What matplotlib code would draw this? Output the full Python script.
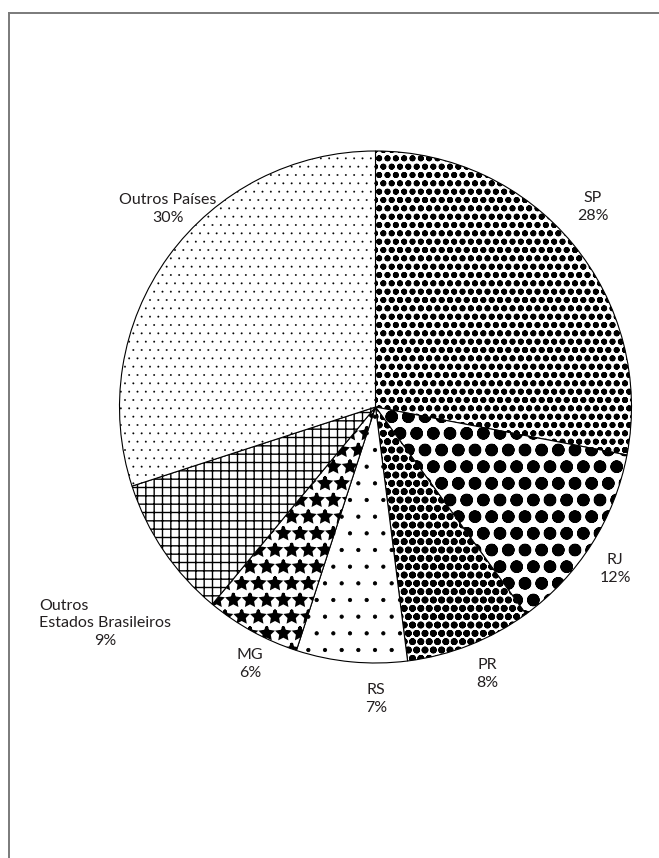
import numpy as np
import matplotlib
matplotlib.use('Agg')
import matplotlib.pyplot as plt
from matplotlib.lines import Line2D

# Data
labels = ['SP', 'RJ', 'PR', 'RS', 'MG', 'Outros\nEstados Brasileiros', 'Outros Países']
shares = [28, 12, 8, 7, 6, 9, 30]

# Hatch style per slice (pattern, hatch linewidth in pt)
hatches = ['oo', 'o', 'oo', '.', '*', '++', '..']
hatch_lw = [1.9, 4.3, 2.5, 0.6, 2.0, 1.0, 0.15]

# Label anchor (pie radius = 1): point between the name and the percentage
label_pos = [(0.850, 0.781), (0.936, -0.633), (0.436, -1.043), (0.002, -1.141),
             (-0.490, -1.004), (-1.057, -0.879), (-0.811, 0.775)]

plt.rcParams['font.family'] = ['Lato', 'DejaVu Sans']
txt_color = '#231f20'

W, H = 659, 858
cx, cy, r = 375.5, 407.0, 256.0

fig = plt.figure(figsize=(W / 100, H / 100), dpi=100)
ax = fig.add_axes([0, 0, 1, 1])

wedges, _ = ax.pie(shares, startangle=90, counterclock=False, radius=1,
                   colors=['white'] * len(shares),
                   wedgeprops=dict(edgecolor='black', linewidth=0.8))

for w, h, lw in zip(wedges, hatches, hatch_lw):
    w.set_hatch(h)
    if hasattr(w, 'set_hatch_linewidth'):
        w.set_hatch_linewidth(lw)

# pie() sets its own limits, so put ours after it
ax.set_xlim(-cx / r, (W - cx) / r)
ax.set_ylim((cy - H) / r, cy / r)
ax.set_aspect('equal')
ax.axis('off')

# Labels: name above, percentage below
for name, val, (x, y) in zip(labels, shares, label_pos):
    ax.text(x, y + 0.008, name, ha='center', va='bottom', multialignment='left',
            fontsize=11.5, color=txt_color, linespacing=1.25)
    ax.text(x, y - 0.008, f'{val}%', ha='center', va='top',
            fontsize=11.5, color=txt_color)

# Frame (left and top only)
fig.add_artist(Line2D([8.5 / W, 8.5 / W], [0, 1 - 12.5 / H], color='#7a7a7a', lw=1.4))
fig.add_artist(Line2D([8.5 / W, 1], [1 - 12.5 / H, 1 - 12.5 / H], color='#7a7a7a', lw=1.4))

fig.savefig('out.png', dpi=100)
